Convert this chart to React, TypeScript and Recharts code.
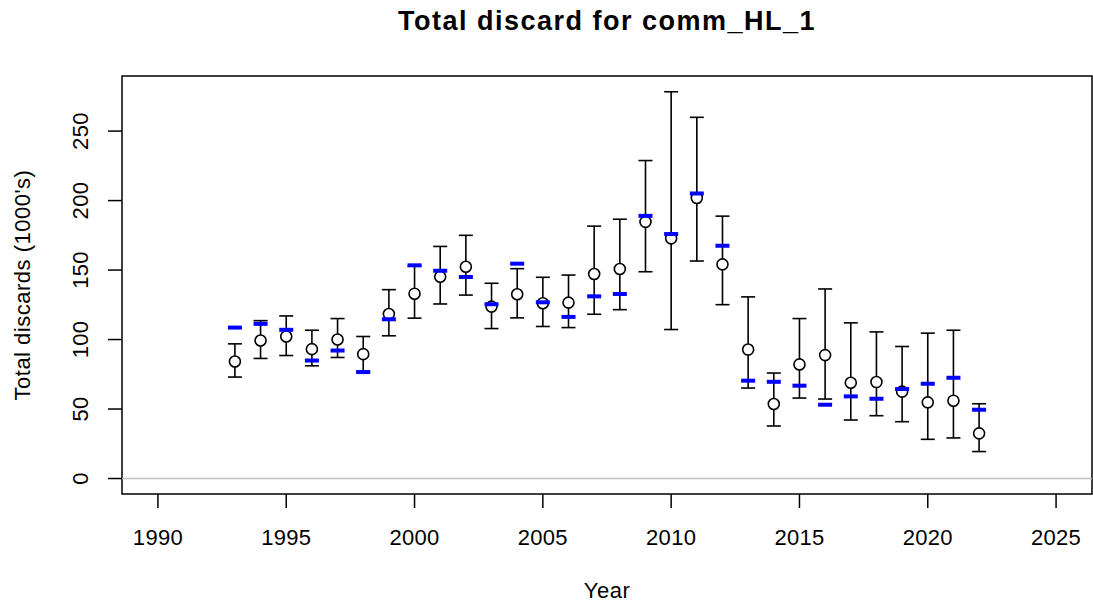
import React from "react";
import {
  ComposedChart,
  Scatter,
  ErrorBar,
  XAxis,
  YAxis,
  ReferenceLine,
  ReferenceArea,
} from "recharts";

// values (1000's)
const years = [
  1993, 1994, 1995, 1996, 1997, 1998, 1999, 2000, 2001, 2002, 2003, 2004, 2005, 2006, 2007,
  2008, 2009, 2010, 2011, 2012, 2013, 2014, 2015, 2016, 2017, 2018, 2019, 2020, 2021, 2022,
];
const observed = [
  84.2, 99.3, 102.2, 93.1, 100, 89.5, 118.4, 133, 145.2, 152.4, 123.7, 132.6, 126.1, 126.6, 147.2,
  150.8, 184.7, 172.8, 201.9, 154.1, 92.8, 53.6, 82.1, 88.8, 68.9, 69.4, 62.5, 54.8, 56, 32.5,
];
const expected = [
  108.6, 111.3, 107, 84.9, 92.1, 76.6, 114.6, 153.4, 149.5, 145, 125.4, 154.6, 126.8, 116.3, 131.1,
  132.8, 189, 175.9, 205.1, 167.5, 70.4, 69.6, 66.8, 53.1, 59.1, 57.4, 64.4, 68.2, 72.5, 49.5,
];
const lower = [
  73, 86.4, 88.5, 81.1, 87.1, 77, 102.7, 115.4, 125.6, 132, 107.9, 115.6, 109.4, 108.6, 118.2,
  121.5, 148.8, 107.2, 156.5, 125.1, 65.1, 37.8, 57.9, 57.2, 42.1, 45.2, 40.9, 28.2, 29.2, 19.4,
];
const upper = [
  96.9, 113.6, 117, 106.7, 115.1, 102.2, 135.9, 153, 167, 175, 140.5, 151, 144.8, 146.4, 181.6,
  186.6, 228.8, 278.3, 259.9, 188.8, 130.7, 75.9, 115.1, 136.4, 112, 105.5, 95, 104.6, 106.7, 53.8,
];

const xTicks = [1990, 1995, 2000, 2005, 2010, 2015, 2020, 2025];
const yTicks = [0, 50, 100, 150, 200, 250];

const X_DOMAIN: [number, number] = [1988.6, 2026.4];
const Y_DOMAIN: [number, number] = [-11.14, 289.64];

const rows = years.map((year, i) => ({
  year,
  obs: observed[i],
  exp: expected[i],
  err: [observed[i] - lower[i], upper[i] - observed[i]],
}));

const FONT = "'Liberation Sans', Arial, sans-serif";

const XTick = ({ x, payload }: any) => (
  <text
    x={x}
    y={537}
    textAnchor="middle"
    dominantBaseline="central"
    fontSize={22}
    letterSpacing={0.3}
    fill="#000"
    fontFamily={FONT}
  >
    {payload.value}
  </text>
);

const YTick = ({ y, payload }: any) => (
  <text
    x={81}
    y={y}
    transform={`rotate(-90, 81, ${y})`}
    textAnchor="middle"
    dominantBaseline="central"
    fontSize={22}
    letterSpacing={0.3}
    fill="#000"
    fontFamily={FONT}
  >
    {payload.value}
  </text>
);

const OpenCircle = ({ cx, cy }: any) => (
  <circle cx={cx} cy={cy} r={5.5} fill="#fff" stroke="#000" strokeWidth={1.6} />
);

const BlueDash = ({ cx, cy }: any) => (
  <rect x={cx - 7} y={cy - 2} width={14} height={4} fill="#0000ff" />
);

export default function App() {
  return (
    <div style={{ position: "absolute", left: 0, top: 0, width: 1093, height: 605, background: "#fff", fontFamily: FONT }}>
      <div
        style={{
          position: "absolute",
          left: 122,
          width: 970,
          top: 5,
          textAlign: "center",
          fontSize: 27,
          letterSpacing: 1.5,
          fontWeight: "bold",
          lineHeight: "32px",
        }}
      >
        Total discard for comm_HL_1
      </div>
      <div
        style={{
          position: "absolute",
          left: 122,
          width: 970,
          top: 576,
          textAlign: "center",
          fontSize: 22,
          letterSpacing: 0.5,
          lineHeight: "30px",
        }}
      >
        Year
      </div>
      <div
        style={{
          position: "absolute",
          left: 23 - 200,
          top: 285 - 15,
          width: 400,
          height: 30,
          lineHeight: "30px",
          textAlign: "center",
          fontSize: 22,
          letterSpacing: 0.5,
          transform: "rotate(-90deg)",
        }}
      >
        Total discards (1000's)
      </div>
      <ComposedChart
        width={1093}
        height={605}
        data={rows}
        margin={{ top: 76, right: 1, bottom: 0, left: 0 }}
        style={{ position: "absolute", left: 0, top: 0 }}
      >
        <XAxis
          type="number"
          dataKey="year"
          domain={X_DOMAIN}
          allowDataOverflow
          ticks={xTicks}
          tick={<XTick />}
          tickSize={14}
          tickLine={{ stroke: "#000", strokeWidth: 1.5 }}
          axisLine={false}
          height={111}
          interval={0}
        />
        <YAxis
          type="number"
          domain={Y_DOMAIN}
          allowDataOverflow
          ticks={yTicks}
          tick={<YTick />}
          tickSize={14}
          tickLine={{ stroke: "#000", strokeWidth: 1.5 }}
          axisLine={false}
          width={122}
          interval={0}
        />
        <ReferenceLine y={0} stroke="#bebebe" strokeWidth={1.5} />
        <ReferenceArea
          x1={X_DOMAIN[0]}
          x2={X_DOMAIN[1]}
          y1={Y_DOMAIN[0]}
          y2={Y_DOMAIN[1]}
          fill="none"
          fillOpacity={0}
          stroke="#000"
          strokeWidth={1.5}
        />
        <Scatter dataKey="obs" shape={<OpenCircle />} isAnimationActive={false}>
          <ErrorBar dataKey="err" direction="y" width={7} stroke="#000" strokeWidth={1.6} />
        </Scatter>
        <Scatter dataKey="exp" shape={<BlueDash />} isAnimationActive={false} />
      </ComposedChart>
    </div>
  );
}
